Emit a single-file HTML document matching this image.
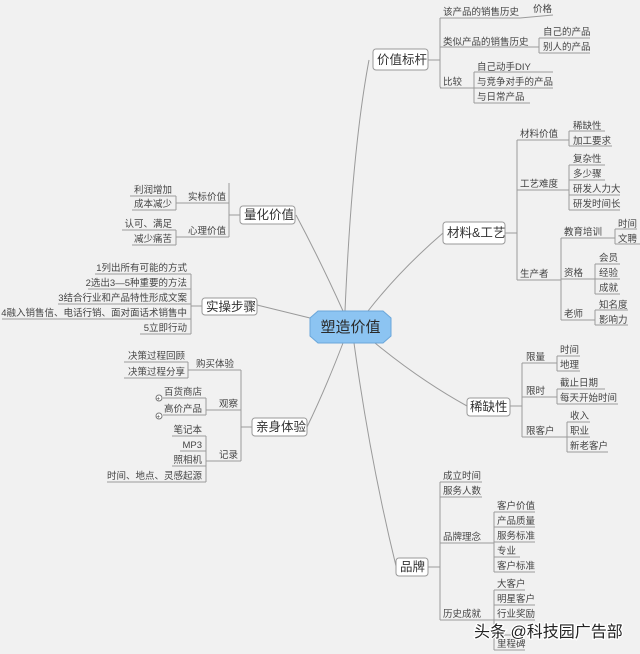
<!DOCTYPE html>
<html><head><meta charset="utf-8"><style>
html,body{margin:0;padding:0;background:#f1f1f1;}
svg{display:block;}
text{font-family:"Liberation Sans","Noto Sans CJK SC",sans-serif;fill:#444;font-size:9.5px;}
.m{font-size:12.5px;fill:#333;}
.r{text-anchor:end;}
line,path,polyline{stroke:#9a9a9a;stroke-width:1;fill:none;}
.b{fill:#fff;stroke:#999;stroke-width:1;}
</style></head><body>
<svg width="640" height="654" viewBox="0 0 640 654" xmlns="http://www.w3.org/2000/svg">
<path d="M345 311 Q352 150 369 60"/>
<path d="M368 311 Q400 270 443 233"/>
<path d="M375 343 Q420 380 467 406"/>
<path d="M354 343 Q370 460 396 566"/>
<path d="M343 311 Q320 260 296 215"/>
<path d="M310 318 L257 305"/>
<path d="M343 343 Q325 390 307 427"/>

<polygon points="318,311 383,311 391,318 391,336 383,343 318,343 310,336 310,318" fill="#8cc4f2" stroke="#6aa6da"/>
<text x="350.5" y="332" text-anchor="middle" style="font-size:15px;fill:#2a2a2a">塑造价值</text>

<rect class="b" x="373" y="49" width="55" height="21" rx="3"/>
<text class="m" x="377" y="64">价值标杆</text>
<line x1="428" y1="60" x2="440" y2="60"/>
<path d="M440 18 V86 Q440 88 442 88"/>
<line x1="440" y1="18" x2="520" y2="18"/><text x="443" y="15">该产品的销售历史</text>
<line x1="520" y1="18" x2="553" y2="15"/><text x="533" y="12">价格</text>
<line x1="440" y1="47" x2="537" y2="47"/><text x="443" y="45">类似产品的销售历史</text>
<path d="M539 38 V53"/><line x1="537" y1="47" x2="539" y2="47"/>
<line x1="539" y1="38" x2="590" y2="38"/><text x="543" y="35">自己的产品</text>
<line x1="539" y1="53" x2="590" y2="53"/><text x="543" y="50">别人的产品</text>
<line x1="440" y1="88" x2="474" y2="88"/><text x="443" y="85">比较</text>
<path d="M474 72 V103"/>
<line x1="474" y1="72" x2="553" y2="72"/><text x="477" y="70">自己动手DIY</text>
<line x1="474" y1="88" x2="553" y2="88"/><text x="477" y="85">与竞争对手的产品</text>
<line x1="474" y1="103" x2="530" y2="103"/><text x="477" y="100">与日常产品</text>

<rect class="b" x="443" y="222" width="62" height="22" rx="3"/>
<text class="m" x="447" y="237">材料&amp;工艺</text>
<line x1="505" y1="233" x2="517" y2="233"/>
<path d="M517 140 V280"/>
<line x1="517" y1="140" x2="569" y2="140"/><text x="520" y="137">材料价值</text>
<path d="M569 131 V146"/>
<line x1="569" y1="131" x2="605" y2="131"/><text x="573" y="129">稀缺性</text>
<line x1="569" y1="146" x2="612" y2="146"/><text x="573" y="144">加工要求</text>
<line x1="517" y1="190" x2="569" y2="190"/><text x="520" y="187">工艺难度</text>
<path d="M569 165 V210"/>
<line x1="569" y1="165" x2="605" y2="165"/><text x="573" y="162">复杂性</text>
<line x1="569" y1="180" x2="605" y2="180"/><text x="573" y="177">多少骤</text>
<line x1="569" y1="195" x2="620" y2="195"/><text x="573" y="192">研发人力大</text>
<line x1="569" y1="210" x2="620" y2="210"/><text x="573" y="207">研发时间长</text>
<line x1="517" y1="280" x2="561" y2="280"/><text x="520" y="277">生产者</text>
<path d="M561 238 V320"/>
<line x1="561" y1="238" x2="615" y2="238"/><text x="564" y="235">教育培训</text>
<path d="M615 229 V244"/>
<line x1="615" y1="229" x2="637" y2="229"/><text x="618" y="227">时间</text>
<line x1="615" y1="244" x2="640" y2="244"/><text x="618" y="242">文聘</text>
<line x1="561" y1="279" x2="595" y2="279"/><text x="564" y="276">资格</text>
<path d="M595 264 V294"/>
<line x1="595" y1="264" x2="620" y2="264"/><text x="599" y="261">会员</text>
<line x1="595" y1="279" x2="620" y2="279"/><text x="599" y="276">经验</text>
<line x1="595" y1="294" x2="620" y2="294"/><text x="599" y="291">成就</text>
<line x1="561" y1="320" x2="595" y2="320"/><text x="564" y="317">老师</text>
<path d="M595 310 V325"/>
<line x1="595" y1="310" x2="628" y2="310"/><text x="599" y="308">知名度</text>
<line x1="595" y1="325" x2="628" y2="325"/><text x="599" y="323">影响力</text>

<rect class="b" x="467" y="398" width="43" height="18" rx="3"/>
<text class="m" x="470" y="411">稀缺性</text>
<line x1="510" y1="406" x2="522" y2="406"/>
<path d="M522 363 V437"/>
<line x1="522" y1="363" x2="557" y2="363"/><text x="526" y="360">限量</text>
<path d="M557 356 V371"/>
<line x1="557" y1="356" x2="580" y2="356"/><text x="560" y="353">时间</text>
<line x1="557" y1="371" x2="580" y2="371"/><text x="560" y="368">地理</text>
<line x1="522" y1="397" x2="557" y2="397"/><text x="526" y="394">限时</text>
<path d="M557 389 V404"/>
<line x1="557" y1="389" x2="605" y2="389"/><text x="560" y="386">截止日期</text>
<line x1="557" y1="404" x2="618" y2="404"/><text x="560" y="401">每天开始时间</text>
<line x1="522" y1="437" x2="567" y2="437"/><text x="526" y="434">限客户</text>
<path d="M567 422 V452"/>
<line x1="567" y1="422" x2="590" y2="422"/><text x="570" y="419">收入</text>
<line x1="567" y1="437" x2="590" y2="437"/><text x="570" y="434">职业</text>
<line x1="567" y1="452" x2="608" y2="452"/><text x="570" y="449">新老客户</text>

<rect class="b" x="396" y="558" width="32" height="18" rx="3"/>
<text class="m" x="400" y="571">品牌</text>
<line x1="428" y1="567" x2="440" y2="567"/>
<path d="M440 482 V620"/>
<line x1="440" y1="482" x2="482" y2="482"/><text x="443" y="479">成立时间</text>
<line x1="440" y1="497" x2="482" y2="497"/><text x="443" y="494">服务人数</text>
<line x1="440" y1="543" x2="494" y2="543"/><text x="443" y="540">品牌理念</text>
<path d="M494 512 V572"/>
<line x1="494" y1="512" x2="535" y2="512"/><text x="497" y="509">客户价值</text>
<line x1="494" y1="527" x2="535" y2="527"/><text x="497" y="524">产品质量</text>
<line x1="494" y1="542" x2="535" y2="542"/><text x="497" y="539">服务标准</text>
<line x1="494" y1="557" x2="520" y2="557"/><text x="497" y="554">专业</text>
<line x1="494" y1="572" x2="535" y2="572"/><text x="497" y="569">客户标准</text>
<line x1="440" y1="620" x2="494" y2="620"/><text x="443" y="617">历史成就</text>
<path d="M494 590 V650"/>
<line x1="494" y1="590" x2="525" y2="590"/><text x="497" y="587">大客户</text>
<line x1="494" y1="605" x2="535" y2="605"/><text x="497" y="602">明星客户</text>
<line x1="494" y1="620" x2="535" y2="620"/><text x="497" y="617">行业奖励</text>
<line x1="494" y1="635" x2="525" y2="635"/>
<line x1="494" y1="650" x2="525" y2="650"/><text x="497" y="647">里程碑</text>
<text x="474" y="637" style="font-size:16px;fill:#222;stroke:#fff;stroke-width:2.5px;paint-order:stroke">头条 @科技园广告部</text>

<rect class="b" x="240" y="206" width="55" height="18" rx="3"/>
<text class="m" x="244" y="219">量化价值</text>
<line x1="229" y1="215" x2="240" y2="215"/>
<path d="M229 183 V237"/>
<line x1="176" y1="203" x2="229" y2="203"/><text class="r" x="226" y="200">实标价值</text>
<path d="M176 196 V210"/>
<line x1="130" y1="196" x2="176" y2="196"/><text class="r" x="172" y="193">利润增加</text>
<line x1="132" y1="210" x2="176" y2="210"/><text class="r" x="172" y="207">成本减少</text>
<line x1="176" y1="237" x2="229" y2="237"/><text class="r" x="226" y="234">心理价值</text>
<path d="M176 230 V245"/>
<line x1="122" y1="230" x2="176" y2="230"/><text class="r" x="172" y="227">认可、满足</text>
<line x1="132" y1="245" x2="176" y2="245"/><text class="r" x="172" y="242">减少痛苦</text>

<rect class="b" x="202" y="298" width="55" height="17" rx="3"/>
<text class="m" x="206" y="311">实操步骤</text>
<line x1="191" y1="306" x2="202" y2="306"/>
<path d="M191 274 V334"/>
<line x1="95" y1="274" x2="191" y2="274"/><text class="r" x="187" y="271">1列出所有可能的方式</text>
<line x1="88" y1="289" x2="191" y2="289"/><text class="r" x="187" y="286">2选出3—5种重要的方法</text>
<line x1="58" y1="304" x2="191" y2="304"/><text class="r" x="187" y="301">3结合行业和产品特性形成文案</text>
<line x1="2" y1="319" x2="191" y2="319"/><text class="r" x="187" y="316">4融入销售信、电话行销、面对面话术销售中</text>
<line x1="140" y1="334" x2="191" y2="334"/><text class="r" x="187" y="331">5立即行动</text>

<rect class="b" x="252" y="418" width="55" height="18" rx="3"/>
<text class="m" x="256" y="431">亲身体验</text>
<line x1="241" y1="427" x2="252" y2="427"/>
<path d="M241 370 V461"/>
<line x1="188" y1="370" x2="241" y2="370"/><text class="r" x="234" y="367">购买体验</text>
<path d="M188 362 V378"/>
<line x1="124" y1="362" x2="188" y2="362"/><text class="r" x="185" y="359">决策过程回顾</text>
<line x1="124" y1="378" x2="188" y2="378"/><text class="r" x="185" y="375">决策过程分享</text>
<line x1="206" y1="410" x2="241" y2="410"/><text class="r" x="238" y="407">观察</text>
<path d="M206 398 V415"/>
<line x1="163" y1="398" x2="206" y2="398"/><text class="r" x="202" y="395">百货商店</text>
<line x1="163" y1="415" x2="206" y2="415"/><text class="r" x="202" y="412">高价产品</text>
<circle cx="159" cy="398" r="3" fill="#fff" stroke="#777"/><text x="156.5" y="400.5" style="font-size:6px">+</text>
<circle cx="159" cy="416" r="3" fill="#fff" stroke="#777"/><text x="156.5" y="418.5" style="font-size:6px">+</text>
<line x1="206" y1="461" x2="241" y2="461"/><text class="r" x="238" y="458">记录</text>
<path d="M206 436 V482"/>
<line x1="172" y1="436" x2="206" y2="436"/><text class="r" x="202" y="433">笔记本</text>
<line x1="180" y1="451" x2="206" y2="451"/><text class="r" x="202" y="448">MP3</text>
<line x1="172" y1="466" x2="206" y2="466"/><text class="r" x="202" y="463">照相机</text>
<line x1="107" y1="482" x2="206" y2="482"/><text class="r" x="202" y="479">时间、地点、灵感起源</text>
</svg>
</body></html>
